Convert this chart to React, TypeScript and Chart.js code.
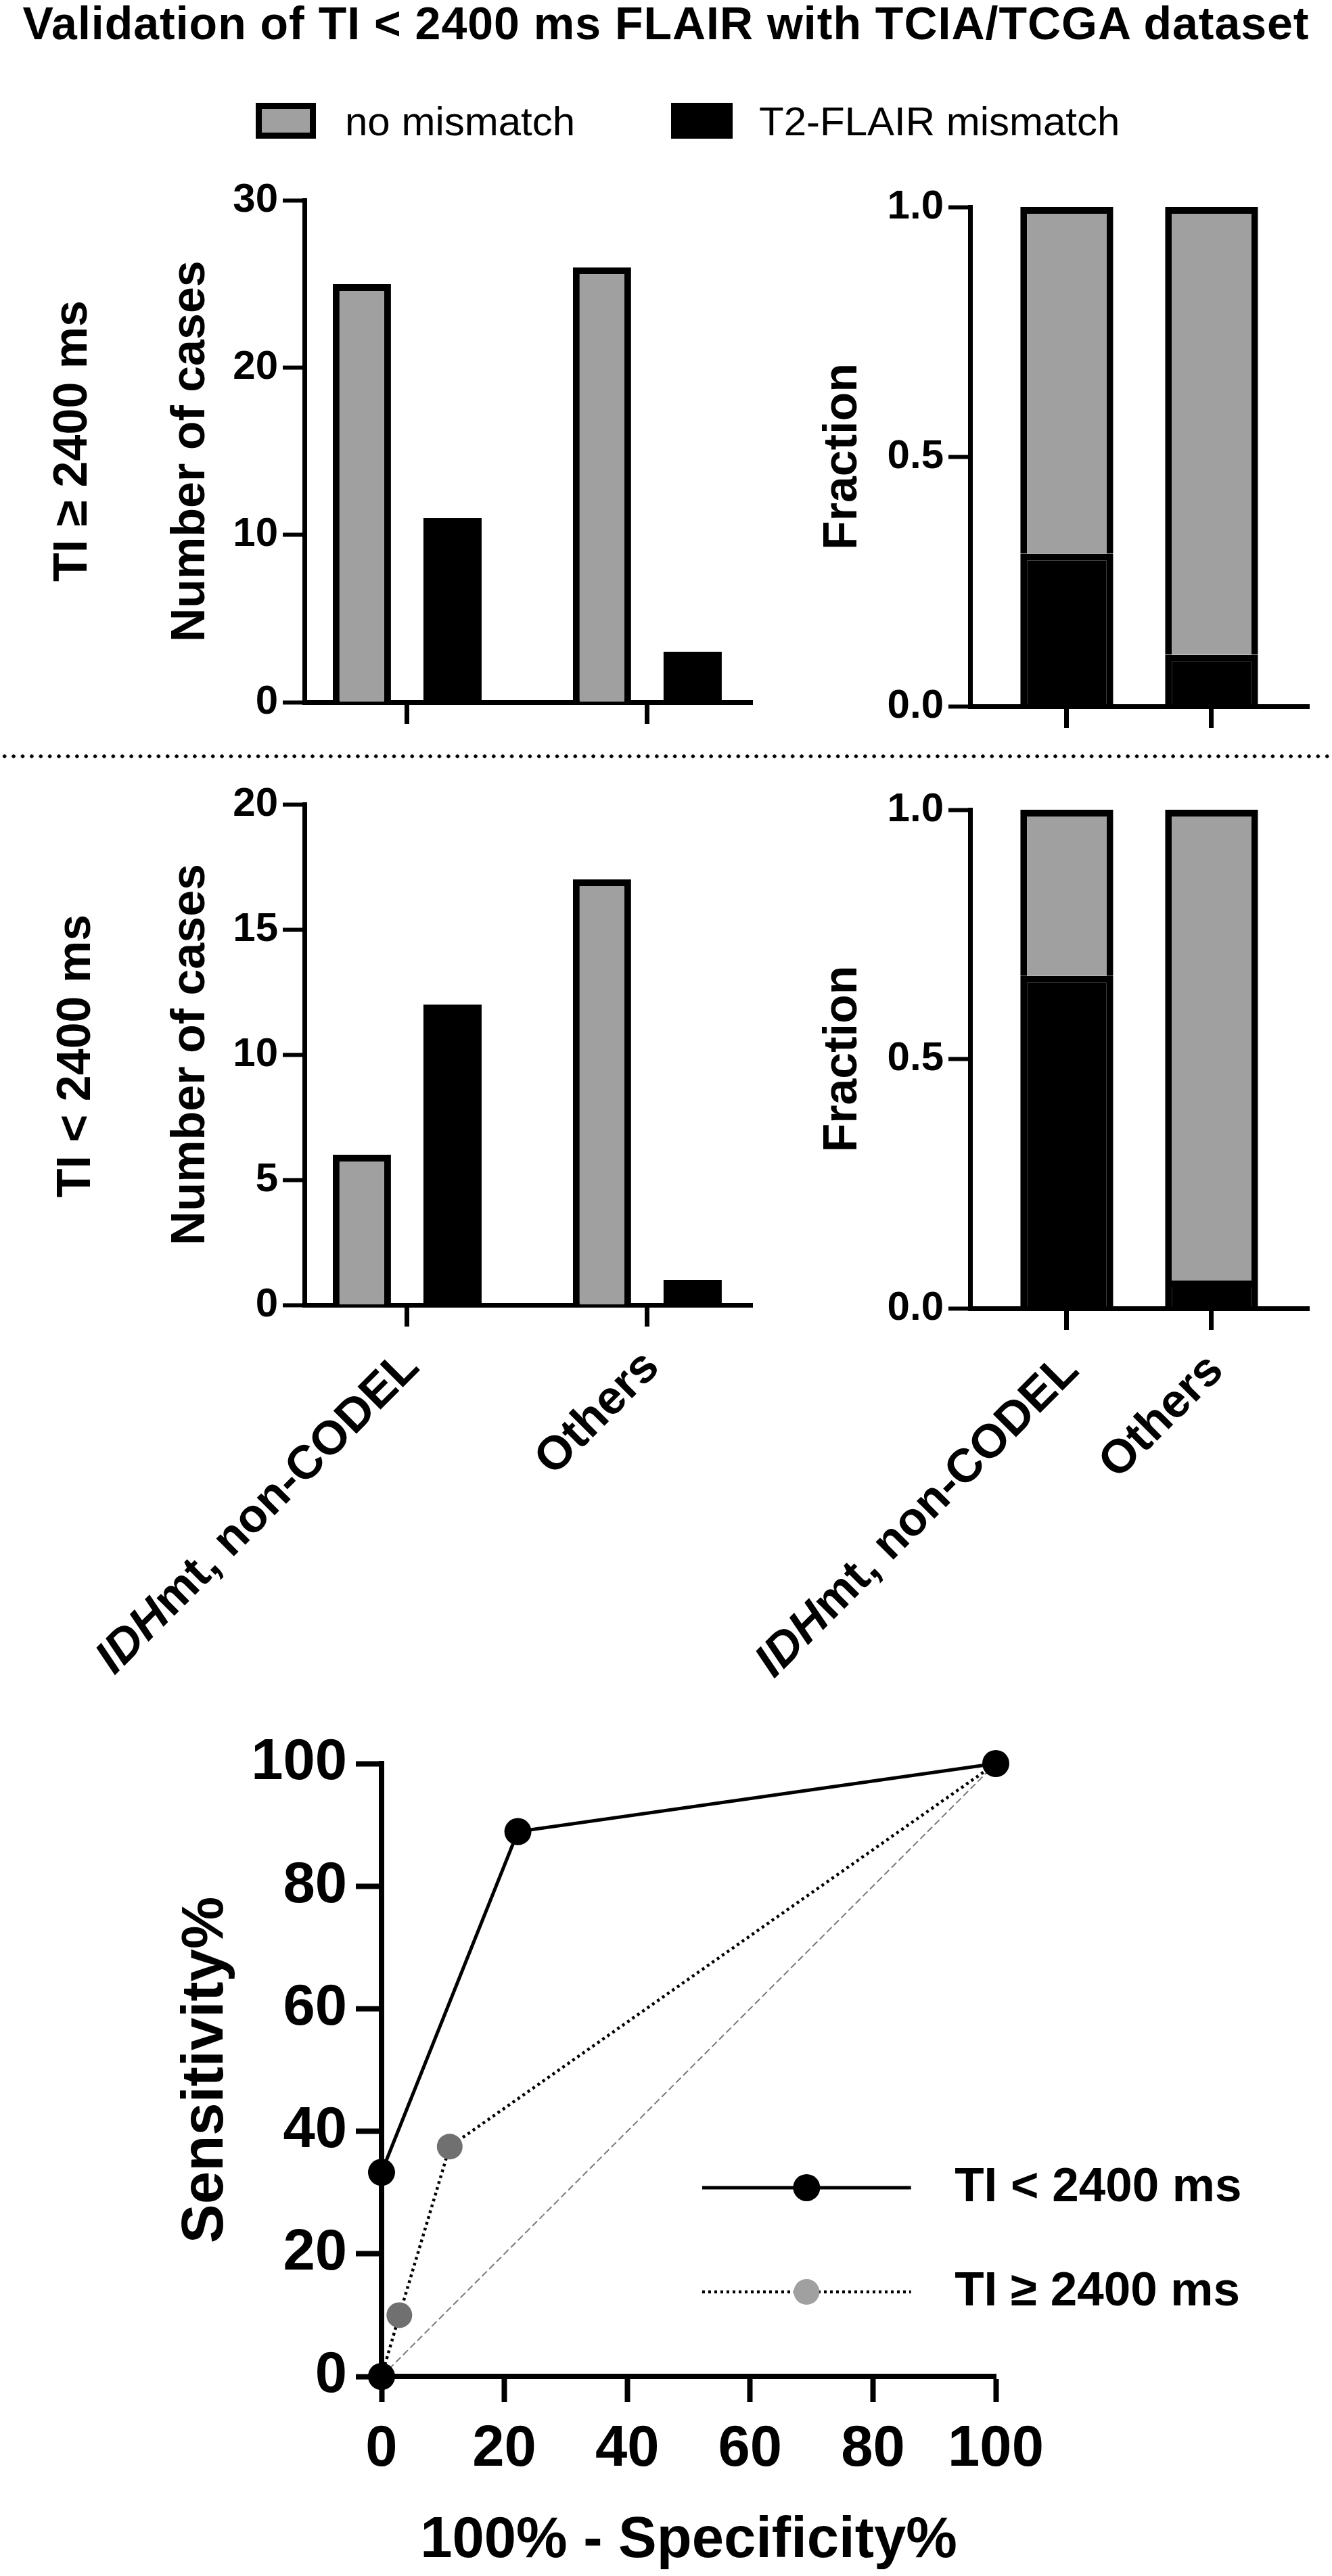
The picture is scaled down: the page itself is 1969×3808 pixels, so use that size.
import React, { useEffect, useRef } from 'react';
import { Chart, ChartConfiguration, Plugin } from 'chart.js/auto';

const FONT = "'Liberation Sans', Arial, Helvetica, sans-serif";
const GRAY = '#a0a0a0';

// categories and counts
const categories = ['IDHmt, non-CODEL', 'Others'];
const italicTerms = ['IDH'];
const seriesNames = ['no mismatch', 'T2-FLAIR mismatch'];

const longTiNoMismatch = [25, 26];
const longTiMismatch = [11, 3];
const shortTiNoMismatch = [6, 17];
const shortTiMismatch = [12, 1];

const countTicksLong = [0, 10, 20, 30];
const countTicksShort = [0, 5, 10, 15, 20];
const fractionTicks = [0, 0.5, 1];

// ROC points (100% - specificity, sensitivity)
const rocShortX = [0, 0, 22.2, 100];
const rocShortY = [0, 33.3, 88.9, 100];
const rocLongX = [0, 2.9, 11.1, 100];
const rocLongY = [0, 10, 37.5, 100];
const chanceX = [0, 100];
const chanceY = [0, 100];
const rocTicks = [0, 20, 40, 60, 80, 100];
const rocNames = ['TI < 2400 ms', 'TI ≥ 2400 ms'];

const fractionOf = (mis: number[], noMis: number[]) => mis.map((m, i) => m / (m + noMis[i]));
const points = (xs: number[], ys: number[]) => xs.map((x, i) => ({ x, y: ys[i] }));

const fixedTicks = (values: number[]) => (scale: any) => {
    scale.ticks = values.map(value => ({ value }));
};

// rotated category labels, with gene names in italics
const categoryLabels: Plugin = {
    id: 'catLabels',
    afterDraw(chart, _args, opts: any) {
        if (!opts || !opts.show) return;
        const xs = chart.scales.x;
        const ctx = chart.ctx;
        ctx.save();
        ctx.fillStyle = '#000';
        ctx.textBaseline = 'middle';
        ctx.textAlign = 'right';
        categories.forEach((label, i) => {
            const px = xs.getPixelForValue(i);
            ctx.save();
            ctx.translate(px + opts.dx, xs.top + opts.dy);
            ctx.rotate(-Math.PI / 4);
            const term = italicTerms.find(t => label.startsWith(t));
            const rest = term ? label.slice(term.length) : label;
            ctx.font = `bold ${opts.size}px ${FONT}`;
            ctx.fillText(rest, 0, 0);
            if (term) {
                const w = ctx.measureText(rest).width;
                ctx.font = `italic bold ${opts.size}px ${FONT}`;
                ctx.fillText(term, -w, 0);
            }
            ctx.restore();
        });
        ctx.restore();
    }
};

// line + marker legend inside the ROC plot
const rocLegend: Plugin = {
    id: 'rocLegend',
    afterDraw(chart, _args, opts: any) {
        const { ctx, chartArea: a } = chart;
        const w = a.right - a.left;
        const h = a.bottom - a.top;
        let row = 0;
        chart.data.datasets.forEach((ds: any) => {
            if (!ds.label) return;
            const y = a.top + opts.rows[row++] * h;
            const x1 = a.left + opts.x1 * w;
            const x2 = a.left + opts.x2 * w;
            ctx.save();
            ctx.strokeStyle = ds.borderColor;
            ctx.lineWidth = ds.borderWidth;
            ctx.setLineDash(ds.borderDash || []);
            ctx.beginPath();
            ctx.moveTo(x1, y);
            ctx.lineTo(x2, y);
            ctx.stroke();
            ctx.setLineDash([]);
            ctx.fillStyle = ds.legendPointColor || ds.pointBackgroundColor;
            ctx.beginPath();
            ctx.arc((x1 + x2) / 2, y, ds.pointRadius, 0, Math.PI * 2);
            ctx.fill();
            ctx.fillStyle = '#000';
            ctx.font = `bold ${opts.size}px ${FONT}`;
            ctx.textAlign = 'left';
            ctx.textBaseline = 'middle';
            ctx.fillText(ds.label, a.left + opts.textX * w, y);
            ctx.restore();
        });
    }
};

interface Frame {
    yWidth: number;
    xHeight: number;
    padTop: number;
    padRight: number;
    xMin: number;
    xMax: number;
    titlePad: number;
}

function barScales(frame: Frame, yMax: number, yTicks: number[], yTitle: string, fmt: (v: number) => string, stacked: boolean): any {
    return {
        x: {
            type: 'linear',
            min: frame.xMin,
            max: frame.xMax,
            stacked,
            offset: false,
            afterBuildTicks: fixedTicks(categories.map((_, i) => i)),
            afterFit: (s: any) => { s.height = frame.xHeight; },
            ticks: { display: false },
            grid: { offset: false, drawOnChartArea: false, tickLength: 32, tickWidth: 7, tickColor: '#000' },
            border: { display: true, color: '#000', width: 7 }
        },
        y: {
            min: 0,
            max: yMax,
            stacked,
            afterBuildTicks: fixedTicks(yTicks),
            afterFit: (s: any) => { s.width = frame.yWidth; },
            ticks: { color: '#000', padding: 7, font: { family: FONT, size: 60, weight: 'bold' }, callback: (v: any) => fmt(Number(v)) },
            grid: { drawOnChartArea: false, tickLength: 32, tickWidth: 6, tickColor: '#000' },
            border: { display: true, color: '#000', width: 7 },
            title: { display: true, text: yTitle, color: '#000', padding: { top: frame.titlePad, bottom: 0 }, font: { family: FONT, size: 70, weight: 'bold' } }
        }
    };
}

function countChart(noMis: number[], mis: number[], yMax: number, yTicks: number[], frame: Frame, showLabels: boolean): ChartConfiguration {
    const xs = categories.map((_, i) => i);
    return {
        type: 'bar',
        data: {
            datasets: [
                { label: seriesNames[0], data: points(xs, noMis), backgroundColor: GRAY, borderColor: '#000', borderWidth: 10, categoryPercentage: 0.755, barPercentage: 0.642 },
                { label: seriesNames[1], data: points(xs, mis), backgroundColor: '#000', borderColor: '#000', borderWidth: 0, categoryPercentage: 0.755, barPercentage: 0.642 }
            ] as any
        },
        options: {
            animation: false,
            responsive: false,
            events: [],
            layout: { padding: { top: frame.padTop, right: frame.padRight, left: 0, bottom: 0 } },
            scales: barScales(frame, yMax, yTicks, 'Number of cases', v => String(v), false),
            plugins: {
                legend: { display: false },
                tooltip: { enabled: false },
                catLabels: { show: showLabels, dx: 7, dy: 81, size: 70 }
            } as any
        },
        plugins: [categoryLabels]
    };
}

function fractionChart(noMis: number[], mis: number[], frame: Frame, showLabels: boolean): ChartConfiguration {
    const misFrac = fractionOf(mis, noMis);
    const xs = categories.map((_, i) => i);
    return {
        type: 'bar',
        data: {
            datasets: [
                { label: seriesNames[1], data: points(xs, misFrac), backgroundColor: '#000', borderColor: '#000', borderWidth: 10, categoryPercentage: 1, barPercentage: 0.642 },
                { label: seriesNames[0], data: points(xs, misFrac.map(f => 1 - f)), backgroundColor: GRAY, borderColor: '#000', borderWidth: 10, categoryPercentage: 1, barPercentage: 0.642 }
            ] as any
        },
        options: {
            animation: false,
            responsive: false,
            events: [],
            layout: { padding: { top: frame.padTop, right: frame.padRight, left: 0, bottom: 0 } },
            scales: barScales(frame, 1, fractionTicks, 'Fraction', v => v.toFixed(1), true),
            plugins: {
                legend: { display: false },
                tooltip: { enabled: false },
                catLabels: { show: showLabels, dx: 7, dy: 81, size: 70 }
            } as any
        },
        plugins: [categoryLabels]
    };
}

function rocChart(): ChartConfiguration {
    const axis = (title: string, titleSize: number, titlePad: any, tickPad: number, fit: (s: any) => void) => ({
        type: 'linear',
        min: 0,
        max: 100,
        afterBuildTicks: fixedTicks(rocTicks),
        afterFit: fit,
        ticks: { color: '#000', padding: tickPad, font: { family: FONT, size: 85, weight: 'bold' } },
        grid: { drawOnChartArea: false, tickLength: 38, tickWidth: 8, tickColor: '#000' },
        border: { display: true, color: '#000', width: 8 },
        title: { display: true, text: title, color: '#000', padding: titlePad, font: { family: FONT, size: titleSize, weight: 'bold' } }
    });
    return {
        type: 'scatter',
        data: {
            datasets: [
                { label: rocNames[0], data: points(rocShortX, rocShortY), showLine: true, borderColor: '#000', borderWidth: 5, pointRadius: 20, pointBackgroundColor: '#000', pointBorderWidth: 0, clip: false },
                { label: rocNames[1], data: points(rocLongX, rocLongY), showLine: true, borderColor: '#000', borderWidth: 4.5, borderDash: [4, 5], pointRadius: 19, pointBackgroundColor: '#707070', legendPointColor: GRAY, pointBorderWidth: 0, clip: false },
                { label: '', data: points(chanceX, chanceY), showLine: true, borderColor: '#7a7a7a', borderWidth: 2, borderDash: [10, 5], pointRadius: 0, clip: false }
            ] as any
        },
        options: {
            animation: false,
            responsive: false,
            events: [],
            layout: { padding: { top: 67, right: 497, left: 0, bottom: 0 } },
            scales: {
                x: axis('100% - Specificity%', 85, { top: 0, bottom: 0 }, 20, (s: any) => { s.height = 295; }),
                y: axis('Sensitivity%', 87, { top: 53, bottom: 0 }, 13, (s: any) => { s.width = 364; })
            } as any,
            plugins: {
                legend: { display: false },
                tooltip: { enabled: false },
                rocLegend: { rows: [0.692, 0.862], x1: 0.522, x2: 0.862, textX: 0.933, size: 71 }
            } as any
        },
        plugins: [rocLegend]
    };
}

function ChartCanvas({ left, top, width, height, build }: { left: number; top: number; width: number; height: number; build: () => ChartConfiguration }) {
    const canvasRef = useRef<HTMLCanvasElement>(null);

    useEffect(() => {
        if (!canvasRef.current) return;
        const chart = new Chart(canvasRef.current, build());
        return () => chart.destroy();
    }, []);

    return <canvas ref={canvasRef} width={width} height={height} style={{ position: 'absolute', left, top, width, height }} />;
}

function RowLabel({ text, cx, cy }: { text: string; cx: number; cy: number }) {
    return (
        <div style={{
            position: 'absolute', left: cx - 300, top: cy - 35, width: 600, height: 70,
            lineHeight: '70px', fontSize: 70, fontWeight: 700, textAlign: 'center',
            transform: 'rotate(-90deg)', transformOrigin: '50% 50%', whiteSpace: 'nowrap'
        }}>{text}</div>
    );
}

export default function App() {
    const topLeft: Frame = { yWidth: 300, xHeight: 62, padTop: 76.5, padRight: 38, xMin: -0.428, xMax: 1.437, titlePad: 91 };
    // bottom canvases reach further left so the slanted labels are not cut
    const bottomLeft: Frame = { yWidth: 450, xHeight: 591, padTop: 49, padRight: 38, xMin: -0.428, xMax: 1.437, titlePad: 241 };
    const topRight: Frame = { yWidth: 284, xHeight: 56, padTop: 86, padRight: 34, xMin: -0.668, xMax: 1.673, titlePad: 55 };
    const bottomRight: Frame = { yWidth: 534, xHeight: 586, padTop: 57, padRight: 34, xMin: -0.668, xMax: 1.673, titlePad: 305 };

    return (
        <div style={{ position: 'absolute', left: 0, top: 0, width: 1969, height: 3808, background: '#fff', color: '#000', fontFamily: FONT, overflow: 'hidden' }}>
            <div style={{ position: 'absolute', left: 0, top: 0, width: 1969, textAlign: 'center', fontSize: 68, lineHeight: '68px', fontWeight: 700, letterSpacing: 1, whiteSpace: 'nowrap' }}>
                Validation of TI &lt; 2400 ms FLAIR with TCIA/TCGA dataset
            </div>

            <div style={{ position: 'absolute', left: 378, top: 152, width: 89, height: 53, boxSizing: 'border-box', border: '9px solid #000', background: GRAY }} />
            <div style={{ position: 'absolute', left: 510, top: 150, fontSize: 60, lineHeight: '60px', whiteSpace: 'nowrap' }}>{seriesNames[0]}</div>
            <div style={{ position: 'absolute', left: 992, top: 152, width: 91, height: 53, background: '#000' }} />
            <div style={{ position: 'absolute', left: 1122, top: 150, fontSize: 60, lineHeight: '60px', whiteSpace: 'nowrap' }}>{seriesNames[1]}</div>

            <RowLabel text="TI ≥ 2400 ms" cx={104} cy={652} />
            <RowLabel text="TI < 2400 ms" cx={109} cy={1561} />

            <div style={{
                position: 'absolute', left: 0, top: 1115, width: 1969, height: 6,
                backgroundImage: 'radial-gradient(circle, #000 2.4px, rgba(0,0,0,0) 3px)',
                backgroundSize: '13.4px 6px', backgroundRepeat: 'repeat-x'
            }} />

            <ChartCanvas left={150} top={220} width={1000} height={880} build={() => countChart(longTiNoMismatch, longTiMismatch, 30, countTicksLong, topLeft, false)} />
            <ChartCanvas left={1150} top={220} width={819} height={880} build={() => fractionChart(longTiNoMismatch, longTiMismatch, topRight, false)} />
            <ChartCanvas left={0} top={1140} width={1150} height={1380} build={() => countChart(shortTiNoMismatch, shortTiMismatch, 20, countTicksShort, bottomLeft, true)} />
            <ChartCanvas left={900} top={1140} width={1069} height={1380} build={() => fractionChart(shortTiNoMismatch, shortTiMismatch, bottomRight, true)} />
            <ChartCanvas left={200} top={2540} width={1769} height={1268} build={rocChart} />
        </div>
    );
}
